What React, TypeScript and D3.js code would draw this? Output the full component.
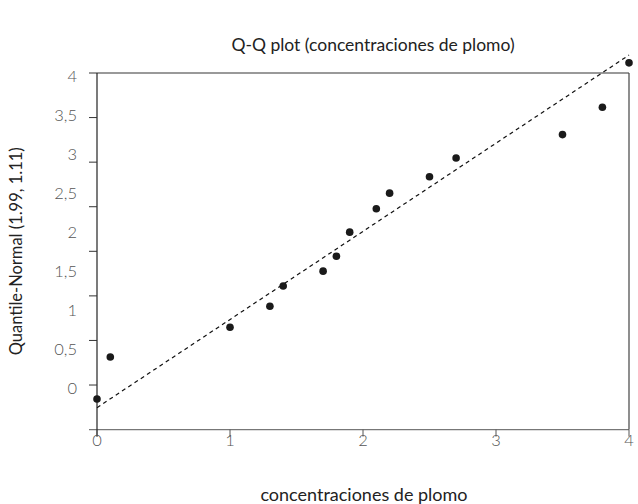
import React from "react";
import * as d3 from "d3";

const concentrations = [0, 0.1, 1.0, 1.3, 1.4, 1.7, 1.8, 1.9, 2.1, 2.2, 2.5, 2.7, 3.5, 3.8, 4.0];
const normalQuantiles = [-0.18, 0.36, 0.74, 1.01, 1.27, 1.46, 1.65, 1.96, 2.26, 2.46, 2.67, 2.91, 3.21, 3.56, 4.13];
const refLineX = [0, 4];
const refLineY = [-0.29, 4.23];
const xTicks = [0, 1, 2, 3, 4];
const yTickLabels = [0, 0.5, 1, 1.5, 2, 2.5, 3, 3.5, 4];
const yTickMarks = d3.range(-1, 8).map((k) => (k * 4) / 7);

const W = 638;
const H = 504;
const left = 97;
const right = 629;
const top = 73;
const bottom = 429.6;
const FONT = "Lato, 'Noto Sans', sans-serif";

export default function App() {
  const x = d3.scaleLinear().domain([0, 4]).range([left, right]);
  const y = d3.scaleLinear().domain([-4 / 7, 4]).range([bottom, top]);
  const line = d3
    .line<number>()
    .x((d, i) => x(refLineX[i]))
    .y((d) => y(d));
  const fmt = (v: number) => String(v).replace(".", ",");

  return (
    <svg width={W} height={H} style={{ position: "absolute", left: 0, top: 0, background: "#fff" }}>
      <text x={373} y={51} textAnchor="middle" fontFamily={FONT} fontSize={17.5} fill="#222">
        Q-Q plot (concentraciones de plomo)
      </text>
      {/* frame */}
      <line x1={left - 8} x2={right} y1={top} y2={top} stroke="#777" strokeWidth={1.3} />
      <line x1={left - 8} x2={right} y1={bottom} y2={bottom} stroke="#777" strokeWidth={1.3} />
      <line x1={right} x2={right} y1={top} y2={bottom} stroke="#444" strokeWidth={1.2} />
      <line x1={left} x2={left} y1={top} y2={bottom + 7} stroke="#222" strokeWidth={1.2} />
      {/* y ticks */}
      {yTickMarks.slice(1, -1).map((v) => (
        <line key={v} x1={left - 8} x2={left} y1={y(v)} y2={y(v)} stroke="#333" strokeWidth={1} />
      ))}
      {yTickLabels.map((v) => (
        <text
          key={v}
          x={77}
          y={y(v) + 3}
          dy="0.35em"
          textAnchor="end"
          fontFamily={FONT}
          fontSize={16.5}
          fill="#555"
          style={{ fontWeight: 300 }}
        >
          {fmt(v)}
        </text>
      ))}
      {/* x ticks */}
      {xTicks.map((v) => (
        <g key={v}>
          <line x1={x(v)} x2={x(v)} y1={bottom} y2={bottom + 7} stroke="#555" strokeWidth={1} />
          <text
            x={x(v)}
            y={bottom + 11}
            dy="0.35em"
            textAnchor="middle"
            fontFamily={FONT}
            fontSize={16.5}
            fill="#555"
            style={{ fontWeight: 300 }}
          >
            {v}
          </text>
        </g>
      ))}
      {/* reference line */}
      <path d={line(refLineY) || ""} fill="none" stroke="#111" strokeWidth={1.2} strokeDasharray="4,3.5" />
      {/* points */}
      {concentrations.map((c, i) => (
        <circle key={i} cx={x(c)} cy={y(normalQuantiles[i])} r={3.8} fill="#1a1a1a" />
      ))}
      <text x={364} y={501} textAnchor="middle" fontFamily={FONT} fontSize={18} fill="#222">
        concentraciones de plomo
      </text>
      <text
        transform={`translate(22,${(top + bottom) / 2}) rotate(-90)`}
        textAnchor="middle"
        fontFamily={FONT}
        fontSize={16.5}
        fill="#222"
      >
        Quantile-Normal (1.99, 1.11)
      </text>
    </svg>
  );
}
